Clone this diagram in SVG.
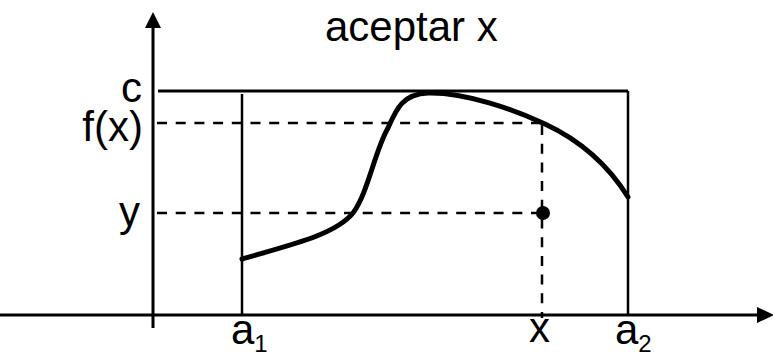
<svg xmlns="http://www.w3.org/2000/svg" width="773" height="357" viewBox="0 0 773 357">
<style>
text{font-family:"Liberation Sans",Arial,sans-serif;font-size:42px;fill:#000}
.ax{stroke:#000;stroke-width:3;fill:none}
.ln{stroke:#000;stroke-width:2.5;fill:none}
.ds{stroke:#000;stroke-width:2.5;fill:none;stroke-dasharray:10,8.7}
.cv{stroke:#000;stroke-width:5;fill:none;stroke-linecap:round}
.sub{font-size:24px}
</style>
<rect width="773" height="357" fill="#fff"/>
<g id="axes">
<line class="ax" x1="153" y1="328" x2="153" y2="26"/>
<polygon points="153,12 145,28 161,28" fill="#000"/>
<line class="ax" x1="0" y1="315" x2="758" y2="315"/>
<polygon points="774,315 757,307 757,323" fill="#000"/>
</g>
<g id="connectors">
<line class="ax" x1="158" y1="91" x2="628" y2="91"/>
<line class="ln" x1="242" y1="94" x2="242" y2="315"/>
<line class="ln" x1="628" y1="91" x2="628" y2="315"/>
<line class="ds" x1="157" y1="123" x2="543" y2="123"/>
<line class="ds" x1="157" y1="213" x2="542" y2="213"/>
<line class="ds" x1="542" y1="125" x2="542" y2="318"/>
</g>
<g id="curve">
<path class="cv" d="M242,259 C290,245 335,235 353,213 C368,193 375,150 388,128 C396,110 402,94 428,93 C465,92 515,110 545,124 C575,138 605,160 628,197"/>
<circle cx="543" cy="213" r="7" fill="#000"/>
</g>
<g id="labels">
<text x="325" y="41">aceptar x</text>
<text x="142" y="102" text-anchor="end">c</text>
<text x="143" y="141" text-anchor="end">f(x)</text>
<text x="140" y="226" text-anchor="end">y</text>
<text x="231" y="344">a<tspan class="sub" dy="8">1</tspan></text>
<text x="529" y="342">x</text>
<text x="615" y="344">a<tspan class="sub" dy="8">2</tspan></text>
</g>
</svg>
